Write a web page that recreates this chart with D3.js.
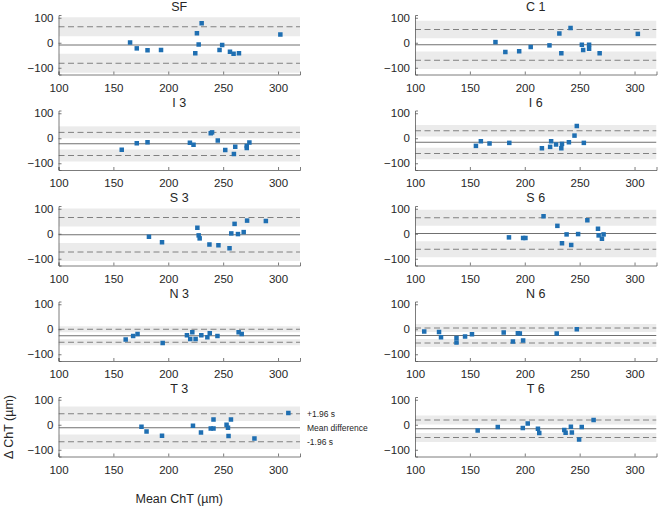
<!DOCTYPE html>
<html><head><meta charset="utf-8">
<script src="https://cdn.jsdelivr.net/npm/d3@7"></script>
<style>
body{margin:0;background:#fff}
text{font-family:"Liberation Sans",Arial,Helvetica,sans-serif;fill:#262626}
</style>
</head><body><svg id="c" width="658" height="508"></svg>
<script>
// ---- data ----
const panelNames = ["SF","C 1","I 3","I 6","S 3","S 6","N 3","N 6","T 3","T 6"];
const xTicks = [100,150,200,250,300];
const yTicks = [-100,0,100];
const xDomain = [100,320];
const yDomain = [-127,111];
const upperLoA = [64,53,23.5,30,65,64,0,5,44,19];
const meanDiff = [-9,-8,-22,-16,-4,1,-26,-25,-12,-16];
const lowerLoA = [-82,-70,-69,-61,-73,-62,-52,-55,-68,-51];
const ciHalf   = [38,35,24,23,36,32,12,16,29,18];
const legendLabels = ["+1.96 s","Mean difference","-1.96 s"];

const sfMean = [165.2,171.3,181.1,193.4,224.6,226.1,227.7,230.4,246.7,249.1,256.2,259.5,264.4,302.1];
const sfDiff = [1,-22.5,-30,-29,-42,38,-7,78,-29,-9,-36,-44,-42,33];
const c1Mean = [173.3,182.3,194.9,205.4,222.5,231.5,233.3,241.7,252,253.2,258.6,258.6,268.2,303];
const c1Diff = [2.6,-37,-34,-17,-10.5,37,-42,59,-8,-29,-8,-24,-42,35.5];
const i3Mean = [157.6,171.3,181.1,219.7,223,238.7,239.9,245.1,251.9,259.8,261,271.5,271.5,273.9];
const i3Diff = [-46,-20,-16,-18,-26,20,23.5,-9,-47,-63,-34,-39,-31,-17];
const i6Mean = [155.5,160,167.9,185.9,215.6,223.1,224,228.5,233.3,233.9,240.2,245.3,247.4,253.8];
const i6Diff = [-30.5,-12,-21,-18.5,-40,-34.5,-12,-25,-40,-22.5,-16,10.6,49,-18.5];
const s3Mean = [182.4,194.3,226.5,227.7,228.6,237.5,245.7,255.8,257.4,260.4,263.5,268.7,271.8,288.9];
const s3Diff = [-12,-34,24,-6.5,-18.5,-43,-46,-58,1.3,39.5,-1.3,6.6,52.6,51];
const s6Mean = [185.6,198.5,200.6,217.1,229.7,233.9,238.1,242.3,248.6,257,266.7,267.3,270.3,271.8];
const s6Diff = [-14.5,-17,-17,70,31.6,-38,-2.6,-45,-1.3,54,20,-6.6,-20,-2.6];
const n3Mean = [161.2,168,172,194.9,217,220,221.9,224.9,230.1,235.6,237.8,244.8,264.1,266.9];
const n3Diff = [-41,-27,-19,-55,-24,-39,-12,-39,-24,-32,-16,-27,-12,-19];
const n6Mean = [108.4,121.9,123.7,137.8,137.8,145.6,151.9,180.8,189.2,193.7,195.5,198.5,229.1,247.4];
const n6Diff = [-9,-11,-32,-35,-53,-29,-20,-13,-49,-16,-17,-45,-17,0];
const t3Mean = [175.6,180.2,194.3,222.5,229.8,238.7,241.2,241.2,253.1,254.4,254.9,257.1,278.5,309.4];
const t3Diff = [-8,-27,-44,-4,-31,-15,-15,21,0,-12,-45,21,-55,47];
const t6Mean = [157.1,175.4,198.2,202.7,212,213.2,236,237.2,242,242.9,249.5,251.9,262.7];
const t6Diff = [-23,-9,-13,5,-16,-33,-21,-32,-8,-31,-59,-9,19];

const panelMeans = [sfMean,c1Mean,i3Mean,i6Mean,s3Mean,s6Mean,n3Mean,n6Mean,t3Mean,t6Mean];
const panelDiffs = [sfDiff,c1Diff,i3Diff,i6Diff,s3Diff,s6Diff,n3Diff,n6Diff,t3Diff,t6Diff];

// ---- layout ----
const svg = d3.select("#c");
const colX = [58.5, 415];
const plotW = 241.5;
const rowY = [15, 110.5, 206, 301.5, 397];
const plotH = 59.5;
const band = "#ebebeb", lineCol = "#808080", axisCol = "#5a5a5a", dotCol = "#1f6fb2";

panelNames.forEach((name, i) => {
  const col = i % 2, row = Math.floor(i / 2);
  const x = d3.scaleLinear().domain(xDomain).range([colX[col], colX[col] + plotW]);
  const y = d3.scaleLinear().domain(yDomain).range([rowY[row] + plotH, rowY[row]]);
  const g = svg.append("g");
  const cid = "clip" + i;
  g.append("clipPath").attr("id", cid).append("rect")
    .attr("x", x.range()[0]).attr("y", y.range()[1])
    .attr("width", plotW).attr("height", plotH);
  const pg = g.append("g").attr("clip-path", `url(#${cid})`);
  [upperLoA[i], lowerLoA[i]].forEach(v => {
    pg.append("rect").attr("x", x(xDomain[0])).attr("width", plotW)
      .attr("y", y(v + ciHalf[i])).attr("height", y(v - ciHalf[i]) - y(v + ciHalf[i]))
      .attr("fill", band);
  });
  [upperLoA[i], lowerLoA[i]].forEach(v => {
    pg.append("line").attr("x1", x(xDomain[0])).attr("x2", x(xDomain[1]))
      .attr("y1", y(v)).attr("y2", y(v))
      .attr("stroke", lineCol).attr("stroke-width", 1).attr("stroke-dasharray", "6,3.5");
  });
  pg.append("line").attr("x1", x(xDomain[0])).attr("x2", x(xDomain[1]))
    .attr("y1", y(meanDiff[i])).attr("y2", y(meanDiff[i]))
    .attr("stroke", "#707070").attr("stroke-width", 1);
  const s = 4.5;
  pg.selectAll("rect.pt").data(panelMeans[i].map((m, k) => [m, panelDiffs[i][k]]))
    .enter().append("rect").attr("class", "pt")
    .attr("x", d => x(d[0]) - s / 2).attr("y", d => y(d[1]) - s / 2)
    .attr("width", s).attr("height", s).attr("fill", dotCol);

  const xa = g.append("g").attr("transform", `translate(0,${y.range()[0]})`)
    .call(d3.axisBottom(x).tickValues(xTicks).tickSize(-3).tickPadding(9));
  const ya = g.append("g").attr("transform", `translate(${x.range()[0]},0)`)
    .call(d3.axisLeft(y).tickValues(yTicks).tickSize(-3).tickPadding(5));
  [xa, ya].forEach(a => {
    a.select(".domain").attr("stroke", axisCol).attr("stroke-width", 0.8);
    a.selectAll(".tick line").attr("stroke", axisCol).attr("stroke-width", 0.8);
    a.selectAll(".tick text").attr("font-size", 11.5).attr("fill", "#262626")
      .attr("font-family", '"Liberation Sans",Arial,sans-serif');
  });
  g.append("text").attr("x", (x.range()[0] + x.range()[1]) / 2).attr("y", rowY[row] - 4)
    .attr("text-anchor", "middle").attr("font-size", 12.5).text(name);

  if (name === "T 3") {
    [upperLoA[i], meanDiff[i], lowerLoA[i]].forEach((v, k) => {
      g.append("text").attr("x", x.range()[1] + 7).attr("y", y(v)).attr("dy", "0.35em")
        .attr("font-size", 8.5).text(legendLabels[k]);
    });
  }
});

svg.append("text").attr("transform", "translate(13,427) rotate(-90)")
  .attr("text-anchor", "middle").attr("font-size", 12.5).text("Δ ChT (µm)");
svg.append("text").attr("x", colX[0] + plotW / 2).attr("y", 503)
  .attr("text-anchor", "middle").attr("font-size", 12.5).text("Mean ChT (µm)");
</script>
</body></html>
